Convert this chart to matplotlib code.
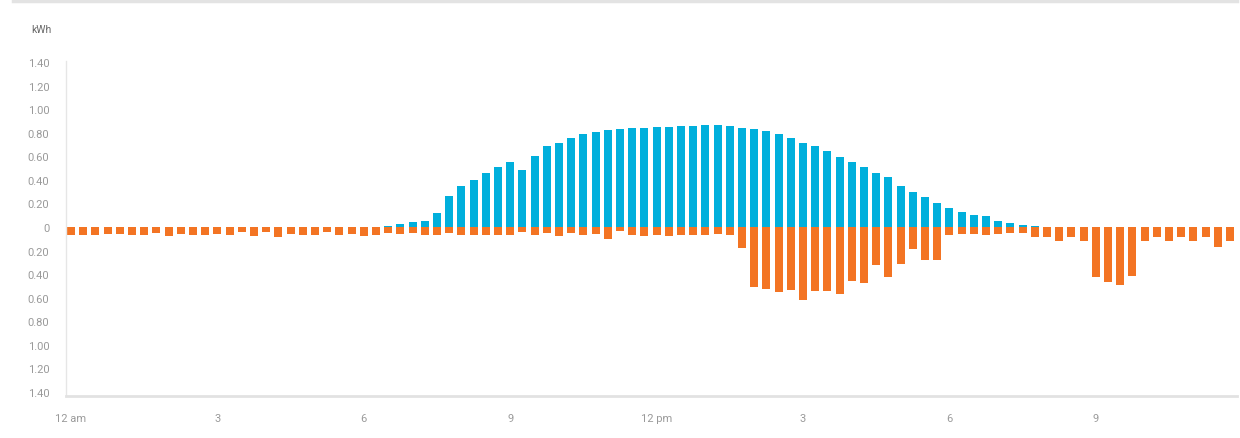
import matplotlib
matplotlib.use("Agg")
import matplotlib.pyplot as plt
import numpy as np
from matplotlib.lines import Line2D

# 15-minute intervals over one day (96 slots)
slots = list(range(96))

generation = [0.0] * 26 + [
    0.012, 0.026, 0.040, 0.049, 0.115, 0.266, 0.345, 0.400, 0.458, 0.511,
    0.554, 0.486, 0.607, 0.684, 0.715, 0.757, 0.788, 0.811, 0.825, 0.833,
    0.839, 0.842, 0.847, 0.853, 0.856, 0.862, 0.864, 0.864, 0.858, 0.845,
    0.830, 0.813, 0.788, 0.760, 0.712, 0.684, 0.647, 0.593, 0.556, 0.508,
    0.463, 0.421, 0.345, 0.297, 0.251, 0.203, 0.161, 0.127, 0.105, 0.090,
    0.054, 0.031, 0.017, 0.008] + [0.0] * 16

consumption = [
    0.070, 0.065, 0.070, 0.060, 0.060, 0.065, 0.065, 0.050, 0.075, 0.055,
    0.070, 0.065, 0.060, 0.065, 0.045, 0.080, 0.045, 0.082, 0.060, 0.070,
    0.065, 0.040, 0.070, 0.060, 0.080, 0.065, 0.050, 0.060, 0.050, 0.065,
    0.065, 0.050, 0.065, 0.065, 0.065, 0.065, 0.065, 0.045, 0.070, 0.050,
    0.073, 0.050, 0.070, 0.060, 0.100, 0.037, 0.065, 0.073, 0.065, 0.080,
    0.065, 0.065, 0.065, 0.056, 0.065, 0.178, 0.508, 0.525, 0.548, 0.534,
    0.621, 0.540, 0.545, 0.565, 0.460, 0.477, 0.325, 0.427, 0.314, 0.186,
    0.282, 0.282, 0.065, 0.060, 0.060, 0.065, 0.060, 0.050, 0.050, 0.085,
    0.085, 0.121, 0.085, 0.121, 0.427, 0.469, 0.489, 0.418, 0.116, 0.085,
    0.116, 0.088, 0.116, 0.085, 0.172, 0.116]

x_tick_slots = [0, 12, 24, 36, 48, 60, 72, 84]
x_tick_labels = ["12 am", "3", "6", "9", "12 pm", "3", "6", "9"]
y_ticks = [-1.4, -1.2, -1.0, -0.8, -0.6, -0.4, -0.2, 0, 0.2, 0.4, 0.6, 0.8, 1.0, 1.2, 1.4]

BLUE = "#00afdc"
ORANGE = "#f37423"
LABEL = "#9a9a9a"

plt.rcParams['font.family'] = ['Roboto', 'DejaVu Sans']

W, H = 1240, 439
fig = plt.figure(figsize=(W / 100, H / 100), dpi=100)
ax = fig.add_axes([66 / W, 1 - 397 / H, (1237 - 66) / W, (397 - 62) / H])

ax.bar(slots, generation, width=0.66, color=BLUE, linewidth=0)
ax.bar(slots, [-v for v in consumption], width=0.66, color=ORANGE, linewidth=0)

ax.set_xlim(-0.41, 95.57)
ax.set_ylim(-1.435, 1.41)

ax.set_yticks(y_ticks)
ax.set_yticklabels(["0" if abs(v) < 1e-9 else f"{abs(v):.2f}" for v in y_ticks])
ax.set_xticks(x_tick_slots)
ax.set_xticklabels(x_tick_labels)

ax.tick_params(axis='y', length=0, pad=12, labelsize=8, labelcolor=LABEL)
ax.tick_params(axis='x', length=0, pad=12, labelsize=8, labelcolor=LABEL)

for s in ['top', 'right']:
    ax.spines[s].set_visible(False)
ax.spines['left'].set_color("#e6e6e6")
ax.spines['left'].set_linewidth(1.0)
ax.spines['bottom'].set_color("#e2e2e2")
ax.spines['bottom'].set_linewidth(2.0)

fig.text(41 / W, 1 - 30 / H, "kWh", ha='center', va='center', fontsize=7.5, color="#666666")

# card top border
fig.add_artist(Line2D([13 / W, 1237 / W], [1 - 2 / H, 1 - 2 / H], transform=fig.transFigure,
                      color="#e3e3e3", linewidth=2.5))

fig.savefig("out.png", dpi=100)
